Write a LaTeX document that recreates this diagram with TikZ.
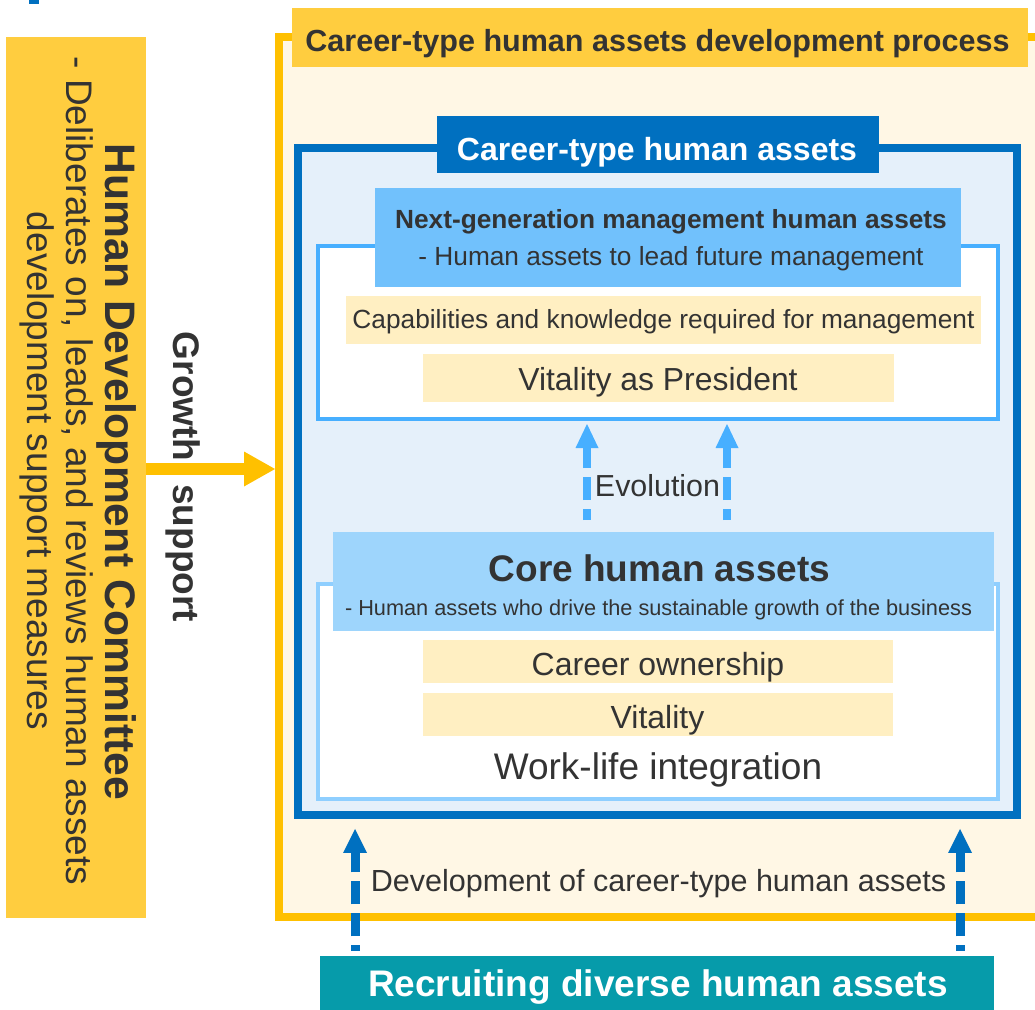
\documentclass[tikz,border=0pt]{standalone}
\usepackage{fontspec}
\setmainfont{Liberation Sans}
\usepackage{xcolor}
\usepackage{tikz}
\usetikzlibrary{arrows.meta,positioning}
\definecolor{myyellow}{RGB}{255,205,63}
\definecolor{myorange}{RGB}{255,192,0}
\definecolor{mycream}{RGB}{255,247,229}
\definecolor{myblue}{RGB}{0,112,192}
\definecolor{mypale}{RGB}{229,240,250}
\definecolor{mysky}{RGB}{113,193,252}
\definecolor{myline}{RGB}{71,175,255}
\definecolor{mybeige}{RGB}{255,239,194}
\definecolor{mylight}{RGB}{158,213,252}
\definecolor{mylightline}{RGB}{143,207,255}
\definecolor{myteal}{RGB}{6,155,170}
\definecolor{mygray}{RGB}{51,51,51}

\begin{document}
\begin{tikzpicture}[x=0.75pt, y=-0.75pt,
    box/.style={rectangle, inner sep=0pt, outer sep=0pt},
    txt/.style={inner sep=0pt, outer sep=0pt, anchor=base, text=mygray},
    item/.style={box, fill=mybeige},
    evo/.style={draw=myline, line width=6pt, dash pattern=on 17.25pt off 6.75pt, dash phase=9pt,
        shorten <=9pt, shorten >=3.75pt, -{Triangle[length=18pt, width=17.25pt, line width=0pt]}},
    devarrow/.style={draw=myblue, line width=6.75pt, dash pattern=on 17.6pt off 6.4pt, dash phase=13.1pt,
        shorten <=3.75pt, shorten >=10.5pt, -{Triangle[length=18pt, width=18pt, line width=0pt]}}]
    \useasboundingbox (0,0) rectangle (1035,1010);
    \fill[myblue] (29,-2) rectangle (39,4);

    % committee
    \node[box, fill=myyellow, minimum width=105pt, minimum height=660.75pt] (HDC) at (76,477.5) {};
    \node[txt, rotate=-90, font=\fontsize{32}{36}\selectfont\bfseries] (HDCt) at (105,472) {Human Development Committee};
    \node[inner sep=0pt, rotate=-90, text=mygray, align=center, font=\fontsize{27.75}{29.25}\selectfont] (HDCd) at (57,471)
        {- Deliberates on, leads, and reviews human assets\\development support measures};

    % process
    \node[box, draw=myorange, line width=6pt, fill=mycream, minimum width=574.5pt, minimum height=660pt] (PROC) at (662,477) {};
    \node[box, fill=myyellow, minimum width=552pt, minimum height=44.25pt] (PROCh) at (660,37.5) {};
    \node[txt, font=\fontsize{22.9}{26}\selectfont\bfseries] (PROCt) at (657.5,51) {Career-type human assets development process};

    \coordinate (g) at (0,469);
    \draw[myorange, line width=9pt, shorten >=3pt, -{Triangle[length=23.25pt, width=26.25pt, line width=0pt]}] (HDC.east |- g) -- (PROC.west |- g);
    \node[txt, rotate=-90, font=\fontsize{27.75}{32}\selectfont\bfseries] (GS) at (173,477) {Growth\hspace{17.25pt}support};

    % career-type human assets
    \node[box, draw=myblue, line width=6pt, fill=mypale, minimum width=538.9pt, minimum height=500.6pt] (CT) at (657.75,481.25) {};
    \node[box, fill=myblue, minimum width=331.5pt, minimum height=42.75pt] (CTh) at (658,144.5) {};
    \node[txt, text=white, font=\fontsize{24}{28}\selectfont\bfseries] (CTt) at (657,160) {Career-type human assets};

    % next generation
    \node[box, draw=myline, line width=3pt, fill=white, minimum width=510pt, minimum height=129.75pt] (NW) at (658,332.5) {};
    \node[box, fill=mysky, minimum width=439.5pt, minimum height=74.25pt] (NH) at (668,237.5) {};
    \node[txt, font=\fontsize{19.7}{24}\selectfont\bfseries] (NHt) at (671,228.4) {Next-generation management human assets};
    \node[txt, font=\fontsize{19.7}{24}\selectfont] (NHd) at (671,265.4) {- Human assets to lead future management};
    \node[item, minimum width=476.25pt, minimum height=36pt] (CAP) at (663.5,320) {};
    \node[txt, font=\fontsize{19.7}{24}\selectfont] (CAPt) at (663.5,328.4) {Capabilities and knowledge required for management};
    \node[item, minimum width=353.25pt, minimum height=36pt] (VP) at (658.5,378) {};
    \node[txt, font=\fontsize{23.9}{28}\selectfont] (VPt) at (658,390) {Vitality as President};

    % evolution
    \coordinate (e1) at (587,0);
    \coordinate (e2) at (727,0);
    \node[txt, font=\fontsize{22.8}{26}\selectfont] (EV) at (657.5,496) {Evolution};

    % core
    \node[box, draw=mylightline, line width=3pt, fill=white, minimum width=510pt, minimum height=161.25pt] (CW) at (658,691.5) {};
    \node[box, fill=mylight, minimum width=495.75pt, minimum height=74.25pt] (CH) at (663.5,581.5) {};
    \node[txt, font=\fontsize{27.75}{32}\selectfont\bfseries] (CHt) at (659.5,581) {Core human assets};
    \node[txt, font=\fontsize{16.3}{20}\selectfont] (CHd) at (658.5,615) {- Human assets who drive the sustainable growth of the business};
    \node[item, minimum width=352.5pt, minimum height=32.25pt] (CO) at (658,661.5) {};
    \node[txt, font=\fontsize{24}{28}\selectfont] (COt) at (658,675.5) {Career ownership};
    \node[item, minimum width=352.5pt, minimum height=32.25pt, below=7.5pt of CO] (VI) {};
    \node[txt, font=\fontsize{24}{28}\selectfont] (VIt) at (657.5,728) {Vitality};
    \node[txt, font=\fontsize{27.75}{32}\selectfont] (WL) at (658,779.7) {Work-life integration};

    \draw[evo] (CH.north -| e1) -- (NW.south -| e1);
    \draw[evo] (CH.north -| e2) -- (NW.south -| e2);

    % recruiting
    \node[box, fill=myteal, minimum width=505.5pt, minimum height=40.5pt] (REC) at (657,983) {};
    \node[txt, text=white, font=\fontsize{27.75}{32}\selectfont\bfseries] (RECt) at (658,996.5) {Recruiting diverse human assets};
    \coordinate (d1) at (355,0);
    \coordinate (d2) at (960,0);
    \draw[devarrow] (REC.north -| d1) -- (CT.south -| d1);
    \draw[devarrow] (REC.north -| d2) -- (CT.south -| d2);
    \node[txt, font=\fontsize{22.9}{26}\selectfont] (DEV) at (658.5,891.4) {Development of career-type human assets};
\end{tikzpicture}
\end{document}
